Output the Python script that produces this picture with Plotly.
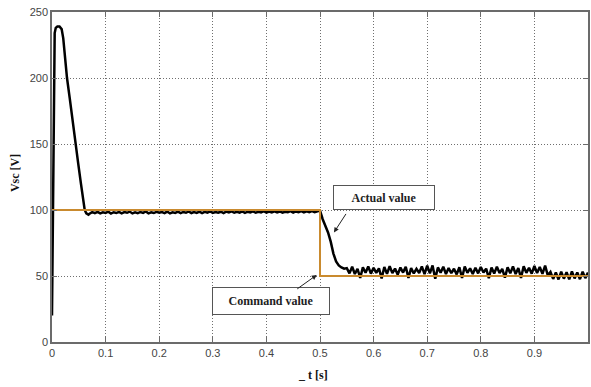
import numpy as np
import plotly.graph_objects as go

# ---------------- data ----------------
# transient start (explicit samples)
t_start = [0.0, 0.001, 0.003, 0.005, 0.007, 0.010, 0.014, 0.018, 0.021, 0.024,
           0.028, 0.033, 0.038, 0.044, 0.049, 0.054, 0.058, 0.061, 0.064, 0.068]
v_start = [20, 70, 190, 234, 238, 239, 239, 237, 230, 216,
           200, 185, 168, 150, 135, 120, 108, 100, 97.5, 96.5]

# flat part 0.07 .. 0.495 (sampled every 0.005 s)
v_flat = [97.2, 98.4, 97.6, 98.6, 97.4, 98.2, 97.8, 98.7, 97.3, 98.3,
          97.7, 98.6, 97.5, 98.4, 97.9, 98.8, 97.4, 98.2, 97.6, 98.5,
          97.8, 98.9, 97.5, 98.3, 97.7, 98.6, 97.9, 98.4, 97.6, 98.8,
          97.4, 98.3, 97.8, 98.7, 97.6, 98.5, 97.9, 98.9, 97.7, 98.4,
          97.8, 98.8, 97.6, 98.6, 98.0, 98.9, 97.8, 98.5, 97.9, 98.7,
          97.7, 98.8, 98.1, 98.9, 97.9, 98.6, 98.0, 99.0, 97.8, 98.7,
          98.1, 98.9, 97.9, 98.6, 98.2, 99.1, 98.0, 98.8, 98.1, 99.0,
          98.2, 98.9, 98.0, 98.7, 98.3, 99.1, 98.1, 98.9, 98.3, 99.2,
          98.2, 99.0, 98.4, 99.1, 98.3, 99.0]
t_flat_start, t_step = 0.07, 0.005

# step response (explicit samples)
t_drop = [0.500, 0.505, 0.510, 0.515, 0.520, 0.525, 0.530, 0.535, 0.540, 0.545]
v_drop = [99.5, 93, 88, 83, 76, 67, 61, 58, 56.5, 55.5]

# noisy part 0.55 .. 1.0 (sampled every 0.005 s)
v_noise = [56.0, 52.0, 57.0, 51.5, 55.5, 48.5, 56.5, 52.5, 57.2, 51.8,
           56.2, 52.4, 55.8, 48.2, 56.8, 51.6, 57.4, 52.2, 55.6, 51.0,
           56.4, 52.6, 57.0, 48.6, 56.0, 51.9, 55.4, 52.3, 57.3, 51.4,
           57.8, 52.0, 58.0, 48.0, 56.5, 52.5, 57.0, 51.5, 56.0, 52.1,
           55.5, 51.2, 56.6, 48.5, 57.2, 52.4, 55.8, 51.6, 56.2, 52.0,
           56.8, 52.6, 55.6, 48.4, 56.4, 51.8, 57.0, 52.2, 55.4, 48.8,
           56.6, 52.0, 57.2, 51.5, 56.0, 48.6, 57.4, 52.4, 56.2, 51.8,
           57.6, 52.2, 56.8, 51.6, 57.8, 50.5, 53.0, 47.8, 52.6, 47.4,
           53.2, 48.0, 52.8, 47.5, 53.4, 48.2, 52.7, 47.6, 53.3, 48.4,
           52.6]
t_noise_start = 0.55

# command value
t_cmd = [0.0, 0.5, 0.5, 1.0]
v_cmd = [100, 100, 50, 50]

x_ticks = [0, 0.1, 0.2, 0.3, 0.4, 0.5, 0.6, 0.7, 0.8, 0.9, 1]
y_ticks = [0, 50, 100, 150, 200, 250]

# --------------- build ---------------
t_flat = [round(t_flat_start + i * t_step, 4) for i in range(len(v_flat))]
t_noise = [round(t_noise_start + i * t_step, 4) for i in range(len(v_noise))]
t_act = t_start + t_flat + t_drop + t_noise
v_act = v_start + v_flat + v_drop + v_noise

ORANGE = "#C98A2E"
AXC = "#6b6b6b"
GRIDC = "#6f6f6f"

fig = go.Figure()
fig.add_trace(go.Scatter(x=t_act, y=v_act, mode="lines",
                         line=dict(color="black", width=2.5), showlegend=False))
fig.add_trace(go.Scatter(x=t_cmd, y=v_cmd, mode="lines",
                         line=dict(color=ORANGE, width=2), showlegend=False))

tickfont = dict(family="Liberation Sans, Arial", size=11, color="#444")
fig.update_xaxes(range=[0, 1], tickvals=x_ticks, ticktext=[f"{v:g}" for v in x_ticks],
                 showgrid=True, gridcolor=GRIDC, griddash="1px,2px", gridwidth=1,
                 zeroline=False, showline=True, linecolor=AXC, linewidth=1.5,
                 mirror="ticks", ticks="inside", ticklen=5, tickcolor=AXC,
                 tickfont=tickfont)
fig.update_yaxes(range=[0, 250], tickvals=y_ticks,
                 showgrid=True, gridcolor=GRIDC, griddash="1px,2px", gridwidth=1,
                 zeroline=False, showline=True, linecolor=AXC, linewidth=1.5,
                 mirror="ticks", ticks="inside", ticklen=5, tickcolor=AXC,
                 tickfont=tickfont)

lblfont = dict(family="Liberation Serif, Times New Roman", size=12, color="#111")
boxfont = dict(family="Liberation Serif, Times New Roman", size=12, color="#222")

annots = [
    # axis titles
    dict(text="<b>Vsc [V]</b>", xref="paper", yref="paper", x=-0.069, y=0.512,
         textangle=-90, showarrow=False, font=lblfont, xanchor="center", yanchor="middle"),
    dict(text="<b>_ t [s]</b>", xref="paper", yref="paper", x=0.487, y=-0.1,
         showarrow=False, font=lblfont, xanchor="center", yanchor="middle"),
    # boxes
    dict(text="<b>Actual value</b>", x=0.619, y=109.8, showarrow=False, font=boxfont,
         bordercolor="#555", borderwidth=1, bgcolor="white", width=98, height=21, borderpad=1),
    dict(text="<b>Command value</b>", x=0.409, y=30.7, showarrow=False, font=boxfont,
         bordercolor="#555", borderwidth=1, bgcolor="white", width=114, height=24, borderpad=1),
    # arrows
    dict(text="", x=0.526, y=83, ax=13, ay=-20, showarrow=True, arrowhead=2,
         arrowsize=1, arrowwidth=1, arrowcolor="#222"),
    dict(text="", x=0.494, y=50.8, ax=-21, ay=15, showarrow=True, arrowhead=2,
         arrowsize=1, arrowwidth=1, arrowcolor="#222"),
]

fig.update_layout(width=591, height=387, margin=dict(l=52, r=1, t=12, b=45),
                  plot_bgcolor="white", paper_bgcolor="white",
                  annotations=annots, showlegend=False)

fig.write_html("out.html")
